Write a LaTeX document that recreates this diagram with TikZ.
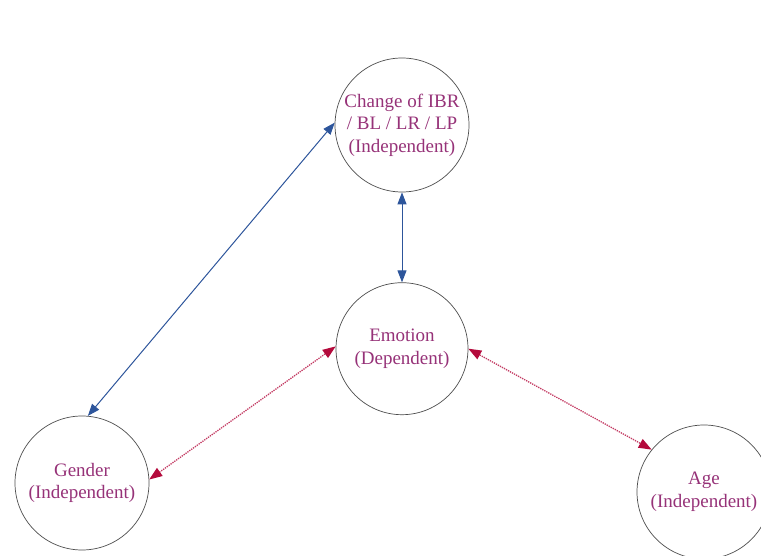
\documentclass[tikz,border=0pt]{standalone}
\usepackage{fontspec}
\setmainfont{Liberation Serif}
\usetikzlibrary{arrows.meta,positioning}
\definecolor{varpurple}{RGB}{150,50,120}
\definecolor{linkblue}{RGB}{45,85,155}
\definecolor{assocred}{RGB}{180,10,60}
\begin{document}
\begin{tikzpicture}
            [x=1pt, y=1pt,
             var/.style = {circle, draw=black!70, line width=0.7pt, minimum size=134pt,
                           inner sep=0pt, align=center, text=varpurple,
                           font=\fontsize{19}{22.5}\selectfont},
             link/.style = {draw=linkblue, line width=1pt,
                            {Triangle[length=12pt,width=9pt]}-{Triangle[length=12pt,width=9pt]}},
             assoc/.style = {draw=assocred!80, line width=1.3pt, densely dotted,
                             {Triangle[length=13pt,width=10pt,fill=assocred,line width=0pt]}-{Triangle[length=13pt,width=10pt,fill=assocred,line width=0pt]}}]
            \useasboundingbox (0,0) rectangle (761,555);
            \node[var] (chg) at (402,430) {Change of IBR\\/ BL / LR / LP\\(Independent)};
            \node[var, minimum size=132pt] (emo) [below=90pt of chg] {Emotion\\(Dependent)};
            \node[var] (gen) at (82,72) {Gender\\(Independent)};
            \node[var] (age) at (704,63) {Age\\(Independent)};
            \draw[link] (gen.85) -- (chg.178);
            \draw[link] (chg.south) -- (emo.north);
            \draw[assoc] (emo.178) -- (gen.3);
            \draw[assoc] (emo.0) -- (age.141);
        \end{tikzpicture}
\end{document}
